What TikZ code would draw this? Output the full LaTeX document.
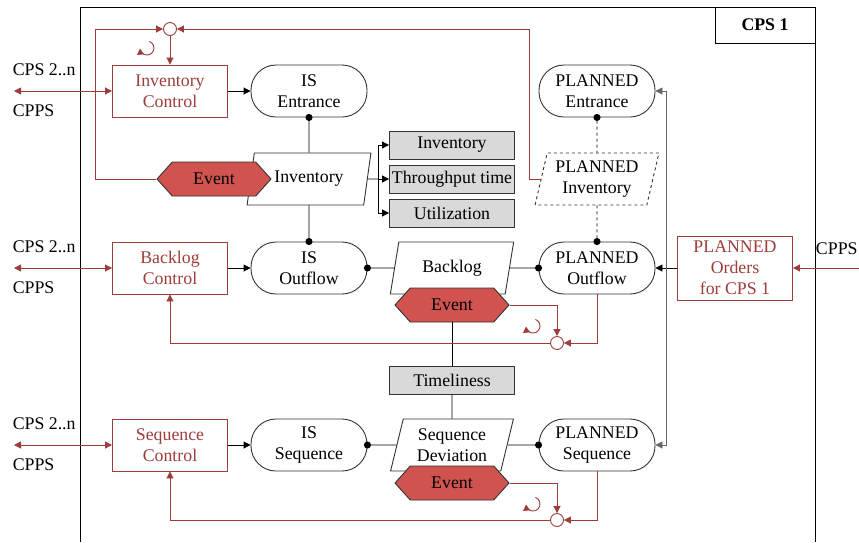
\documentclass[tikz,border=0pt]{standalone}
\usepackage{fontspec}
\setmainfont{Liberation Serif}
\usetikzlibrary{arrows.meta, shapes.geometric, shapes.symbols}

\definecolor{ctrlred}{HTML}{9C3D3B}
\definecolor{eventred}{HTML}{D05350}
\definecolor{kpigray}{HTML}{D9D9D9}

\begin{document}
\begin{tikzpicture}[x=1pt, y=-1pt, line width=0.9pt,
    font=\fontsize{17.8}{21}\selectfont,
    ctrlbox/.style={draw=ctrlred, text=ctrlred, minimum width=115pt, minimum height=52pt, align=center, inner sep=1pt},
    stadium/.style={draw=black!80, rounded corners=25pt, minimum width=116pt, minimum height=52pt, align=center, inner sep=1pt},
    datapara/.style={draw=black!80, fill=white, trapezium, trapezium left angle=75, trapezium right angle=105, trapezium stretches=true, minimum width=124pt, minimum height=52pt, align=center, inner sep=1pt},
    kpibox/.style={draw=black!80, fill=kpigray, minimum width=125pt, minimum height=28pt, inner sep=1pt},
    eventhex/.style={draw=black!80, fill=eventred, signal, signal to=west and east, signal pointer angle=96, minimum width=114pt, minimum height=34pt, inner sep=1pt},
    junction/.style={circle, draw=ctrlred, fill=white, minimum size=13pt, inner sep=0pt},
    blackarr/.style={-{Triangle[length=7pt, width=7pt]}},
    redarr/.style={color=ctrlred, -{Triangle[length=7pt, width=7pt]}},
    twoway/.style={color=ctrlred, {Triangle[length=7pt, width=7pt]}-{Triangle[length=7pt, width=7pt]}},
    dotstart/.style={{Circle[length=7pt]}-, shorten <=-3.5pt},
    dotend/.style={-{Circle[length=7pt]}, shorten >=-3.5pt},
    rotsym/.style={color=ctrlred, -{Triangle[length=6pt, width=7pt]}},
]
  \useasboundingbox (0,0) rectangle (859,542);

  % frame of CPS 1
  \draw (80,542) -- (80,7) -- (815,7) -- (815,542);
  \node[draw, minimum width=100pt, minimum height=36pt, font=\fontsize{17.8}{21}\selectfont\bfseries] (cps1) at (765,25) {CPS 1};

  % inventory row
  \node[ctrlbox] (invctrl) at (170,91) {Inventory\\Control};
  \node[stadium] (isent) at (309,91) {IS\\Entrance};
  \node[stadium] (plent) at (597,91) {PLANNED\\Entrance};
  \node[datapara] (inv) at (309,179) {Inventory};
  \node[eventhex] (ev1) at (214,179) {Event};
  \node[datapara, dashed] (plinv) at (597,179) {PLANNED\\Inventory};
  \node[kpibox] (kinv) at (452,145) {Inventory};
  \node[kpibox] (ktpt) at (452,179) {Throughput time};
  \node[kpibox] (kutil) at (452,213) {Utilization};
  \node[junction] (j1) at (170,29) {};

  % backlog row
  \node[ctrlbox] (bctrl) at (170,268) {Backlog\\Control};
  \node[stadium] (isout) at (309,268) {IS\\Outflow};
  \node[datapara] (backlog) at (452,268) {Backlog};
  \node[stadium] (plout) at (597,268) {PLANNED\\Outflow};
  \node[eventhex] (ev2) at (452,305) {Event};
  \node[junction] (j2) at (557,343) {};
  \node[ctrlbox, minimum height=64pt] (orders) at (735,268) {PLANNED\\Orders\\for CPS 1};
  \node[kpibox] (timely) at (452,380) {Timeliness};

  % sequence row
  \node[ctrlbox] (sctrl) at (170,445) {Sequence\\Control};
  \node[stadium] (isseq) at (309,445) {IS\\Sequence};
  \node[datapara] (seqdev) at (452,445) {Sequence\\Deviation};
  \node[stadium] (plseq) at (597,445) {PLANNED\\Sequence};
  \node[eventhex] (ev3) at (452,483) {Event};
  \node[junction] (j3) at (557,520) {};

  % outside links
  \foreach \y/\n in {91/1, 268/2, 445/3} {
    \node[anchor=west] (cpsn\n) at (9,\y-21) {CPS 2..n};
    \node[anchor=west] (cpps\n) at (9,\y+20) {CPPS};
    \coordinate (ext\n) at (14,\y);
  }
  \draw[twoway] (ext1) -- (invctrl);
  \draw[twoway] (ext2) -- (bctrl);
  \draw[twoway] (ext3) -- (sctrl);
  \coordinate (extr) at (859,268);
  \node[anchor=east, inner sep=1pt] (cppsr) at (859,249) {CPPS};
  \draw[redarr] (extr) -- (orders);

  % flow
  \draw[blackarr] (invctrl) -- (isent);
  \draw[blackarr] (bctrl) -- (isout);
  \draw[blackarr] (sctrl) -- (isseq);
  \draw[dotstart] (isent.south) -- (inv.north);
  \draw[dotend] (inv.south) -- (isout.north);
  \draw[dashed, dotstart] (plent.south) -- (plinv.north);
  \draw[dashed, dotend] (plinv.south) -- (plout.north);
  \draw[dotstart] (isout.east) -- (backlog.west);
  \draw[dotend] (backlog.east) -- (plout.west);
  \draw[dotstart] (isseq.east) -- (seqdev.west);
  \draw[dotend] (seqdev.east) -- (plseq.west);
  \draw (ev2.south) -- (timely.north);
  \draw (timely.south) -- (seqdev.north);

  % key figures
  \coordinate (fork) at (378,179);
  \draw (inv.east) -- (fork);
  \foreach \k in {kinv, ktpt, kutil} \draw[blackarr] (fork) |- (\k);

  % planned orders
  \coordinate (bus) at (666,268);
  \draw[blackarr] (orders) -- (plout);
  \draw[blackarr, black!60] (bus) |- (plent);
  \draw[blackarr, black!60] (bus) |- (plseq);

  % control loops
  \coordinate (loopl) at (95,29);
  \draw[redarr] (ev1.west) -| (loopl) -- (j1);
  \draw[redarr] (plinv.west) -- ++(-11,0) |- (j1);
  \draw[redarr] (j1) -- (invctrl);
  \draw[redarr] (ev2.east) -| (j2);
  \draw[redarr] (plout.south) |- (j2);
  \draw[redarr] (j2) -| (bctrl);
  \draw[redarr] (ev3.east) -| (j3);
  \draw[redarr] (plseq.south) |- (j3);
  \draw[redarr] (j3) -| (sctrl);
  \foreach \p in {(147,48), (533,326), (533,504)}
    \draw[rotsym] \p ++(-70:7) arc (-70:175:7);
\end{tikzpicture}
\end{document}
